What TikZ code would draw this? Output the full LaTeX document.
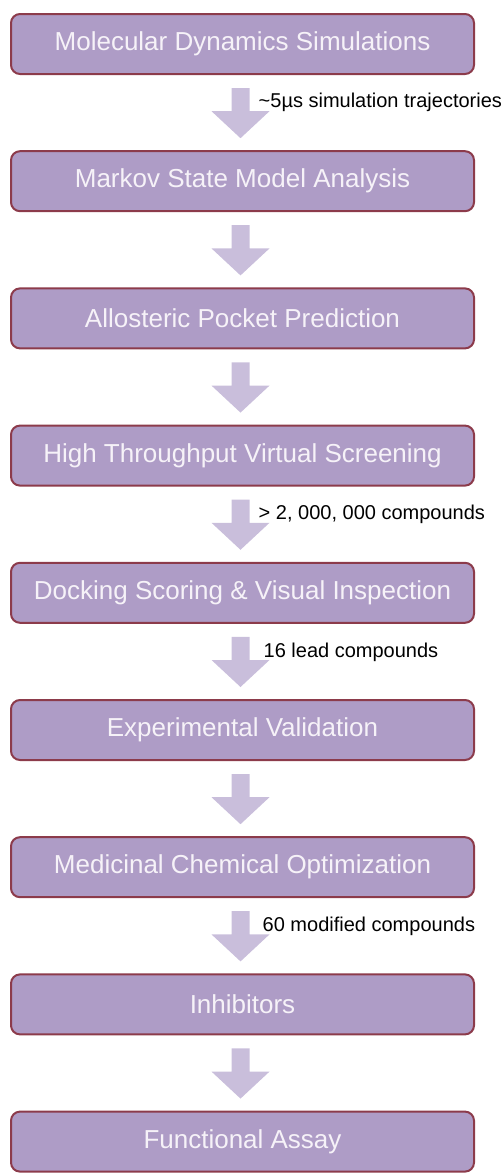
\documentclass[tikz,border=0pt]{standalone}
\usepackage{fontspec}
\setmainfont{Liberation Sans}
\usetikzlibrary{positioning}
\definecolor{boxfill}{RGB}{174,156,198}
\definecolor{boxline}{RGB}{140,59,75}
\definecolor{boxtext}{RGB}{246,242,248}
\definecolor{arrowfill}{RGB}{201,190,219}
\tikzset{
stage/.style={
  rectangle, rounded corners=9pt,
  draw=boxline, line width=2pt, fill=boxfill,
  text=boxtext, font=\fontsize{26}{30}\selectfont,
  minimum width=463pt, minimum height=60pt,
  inner sep=0pt
},
note/.style={anchor=west, inner sep=0pt, font=\fontsize{20}{24}\selectfont},
flow/.style={fill=arrowfill}
}

\begin{document}
\begin{tikzpicture}[node distance=75.2pt]
\useasboundingbox (0,0) rectangle (501pt,-1173pt);
\node[stage] (md) at (242.5pt,-44pt) {Molecular Dynamics Simulations};
\node[stage,below=of md] (msm) {Markov State Model Analysis};
\node[stage,below=of msm] (pocket) {Allosteric Pocket Prediction};
\node[stage,below=of pocket] (htvs) {High Throughput Virtual Screening};
\node[stage,below=of htvs] (dock) {Docking Scoring \& Visual Inspection};
\node[stage,below=of dock] (exp) {Experimental Validation};
\node[stage,below=of exp] (med) {Medicinal Chemical Optimization};
\node[stage,below=of med] (inh) {Inhibitors};
\node[stage,below=of inh] (assay) {Functional Assay};
% the flow arrows
\foreach \a/\b in {md/msm,msm/pocket,pocket/htvs,htvs/dock,dock/exp,exp/med,med/inh,inh/assay}
{
  \fill[flow]
    ([xshift=-11pt,yshift=-13pt]\a.south) --
    ([xshift=7pt,yshift=-13pt]\a.south) --
    ([xshift=7pt,yshift=39pt]\b.north) --
    ([xshift=27pt,yshift=39pt]\b.north) --
    ([xshift=-2pt,yshift=12pt]\b.north) --
    ([xshift=-31pt,yshift=39pt]\b.north) --
    ([xshift=-11pt,yshift=39pt]\b.north) -- cycle;
}
% the arrow notes
\node[note] (traj) at ([xshift=16pt,yshift=-27pt]md.south) {\textasciitilde5µs simulation trajectories};
\node[note] (lib) at ([xshift=16pt,yshift=-28pt]htvs.south) {> 2, 000, 000 compounds};
\node[note] (lead) at ([xshift=21pt,yshift=-29pt]dock.south) {16 lead compounds};
\node[note] (mods) at ([xshift=20pt,yshift=-28pt]med.south) {60 modified compounds};
\end{tikzpicture}
\end{document}
